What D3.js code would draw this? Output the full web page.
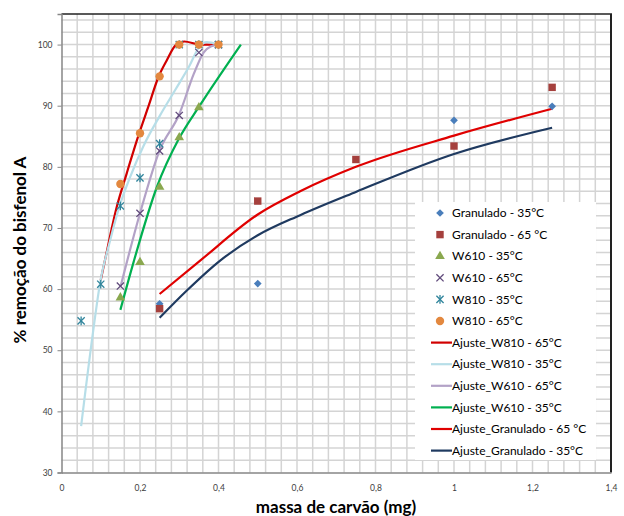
<!DOCTYPE html>
<html>
<head>
<meta charset="utf-8">
<script src="https://cdn.jsdelivr.net/npm/d3@7"></script>
<style>
  body { margin: 0; background: #fff; }
  svg { display: block; font-family: Lato, "Open Sans", sans-serif; }
</style>
</head>
<body>
<svg id="chart" width="624" height="516"></svg>
<script>
// measured points  [massa (mg), % removal]
var granulado35 = [[0.25, 57.6], [0.5, 60.9], [1.0, 87.6], [1.25, 89.9]];
var granulado65 = [[0.25, 56.8], [0.5, 74.4], [0.75, 81.2], [1.0, 83.4], [1.25, 93.0]];
var w610_35 = [[0.15, 58.6], [0.2, 64.4], [0.25, 76.7], [0.3, 84.8], [0.35, 89.7]];
var w610_65 = [[0.15, 60.5], [0.2, 72.4], [0.25, 82.6], [0.3, 88.4], [0.35, 98.7], [0.4, 100]];
var w810_35 = [[0.05, 54.8], [0.1, 60.8], [0.15, 73.6], [0.2, 78.2], [0.25, 83.8], [0.3, 100], [0.35, 100], [0.4, 100]];
var w810_65 = [[0.15, 77.2], [0.2, 85.5], [0.25, 94.8], [0.3, 100], [0.35, 100], [0.4, 100]];

// fitted curves
var fitW810_65 = [[0.1, 61.5], [0.111, 64.8], [0.141, 73.5], [0.166, 78.9], [0.198, 85.5], [0.221, 89.8], [0.247, 94.7], [0.268, 97.4], [0.291, 99.9], [0.313, 100.5], [0.353, 100], [0.4, 100]];
var fitW810_35 = [[0.05, 37.6], [0.081, 53.3], [0.098, 60.9], [0.124, 68], [0.147, 73.4], [0.174, 78.2], [0.208, 83.3], [0.25, 88.3], [0.29, 92.6], [0.325, 96.4], [0.35, 99.5], [0.37, 100.4], [0.4, 100]];
var fitW610_65 = [[0.15, 60.3], [0.2, 72.4], [0.25, 82.7], [0.3, 88.6], [0.337, 95.2], [0.362, 98.7], [0.38, 99.7], [0.4, 100]];
var fitW610_35 = [[0.15, 56.6], [0.184, 64.5], [0.243, 76.7], [0.3, 84.7], [0.352, 90], [0.457, 100]];
var fitGran65 = [[0.25, 59.2], [0.354, 64.7], [0.5, 72.2], [0.608, 76], [0.75, 80], [1.0, 85.1], [1.25, 89.5]];
var fitGran35 = [[0.25, 55.3], [0.32, 59.8], [0.405, 64.7], [0.5, 68.8], [0.608, 72.1], [0.75, 75.9], [1.0, 82.1], [1.25, 86.4]];

var xTicks = [0, 0.2, 0.4, 0.6, 0.8, 1, 1.2, 1.4];
var yTicks = [30, 40, 50, 60, 70, 80, 90, 100];

(function() {
var svg = d3.select("#chart");

var left = 61.5, right = 611, plotTop = 14, bottom = 472.5;

var x = d3.scaleLinear().domain([0, 1.4]).range([left, right]);
var y = d3.scaleLinear().domain([30, 105]).range([bottom, plotTop]);

var fmt = function(d) { return String(d).replace(".", ","); };

// grid (minor every 0.04 / 2)
var grid = svg.append("g").attr("stroke", "#d4d4d4").attr("stroke-width", 1.5);
grid.selectAll(".vx").data(d3.range(1, 35).map(function(i) { return i * 0.04; }))
  .enter().append("line")
  .attr("x1", d => x(d)).attr("x2", d => x(d))
  .attr("y1", plotTop).attr("y2", bottom);
grid.selectAll(".hy").data(d3.range(16, 53).map(function(i) { return i * 2; }))
  .enter().append("line")
  .attr("x1", left).attr("x2", right)
  .attr("y1", d => y(d)).attr("y2", d => y(d));

// top/right frame
svg.append("line").attr("x1", left).attr("x2", right + 1).attr("y1", plotTop).attr("y2", plotTop)
  .attr("stroke", "#222").attr("stroke-width", 1.5);
svg.append("line").attr("x1", right).attr("x2", right).attr("y1", plotTop).attr("y2", bottom)
  .attr("stroke", "#222").attr("stroke-width", 2);

// axes
var xAxis = svg.append("g").attr("transform", "translate(0," + bottom + ")")
  .call(d3.axisBottom(x).tickValues(xTicks).tickFormat(fmt).tickSize(0).tickPadding(12));
var yAxis = svg.append("g").attr("transform", "translate(" + left + ",0)")
  .call(d3.axisLeft(y).tickValues(yTicks).tickSize(4).tickPadding(5));
[xAxis, yAxis].forEach(function(a) {
  a.select(".domain").attr("stroke", "#868686").attr("stroke-width", 1.5);
  a.selectAll(".tick line").attr("stroke", "#868686");
  a.selectAll("text").attr("fill", "#404040").style("font-size", "8.5px").style("font-family", "Lato, sans-serif");
});

// axis titles
svg.append("text").attr("x", 336).attr("y", 513).attr("text-anchor", "middle")
  .style("font-size", "17px").style("font-weight", "bold").attr("fill", "#000")
  .text("massa de carvão (mg)");
svg.append("text").attr("transform", "translate(26,250) rotate(-90)").attr("text-anchor", "middle")
  .style("font-size", "17px").style("font-weight", "bold").attr("fill", "#000")
  .text("% remoção do bisfenol A");

// fit lines
var line = d3.line().x(d => x(d[0])).y(d => y(d[1])).curve(d3.curveMonotoneX);
var fits = [
  { name: "Ajuste_W810 - 65°C", data: fitW810_65, color: "#d10000" },
  { name: "Ajuste_W810 - 35°C", data: fitW810_35, color: "#b7dee8" },
  { name: "Ajuste_W610 - 65°C", data: fitW610_65, color: "#b3a2c7" },
  { name: "Ajuste_W610 - 35°C", data: fitW610_35, color: "#00b050" },
  { name: "Ajuste_Granulado - 65 °C", data: fitGran65, color: "#e00000" },
  { name: "Ajuste_Granulado - 35°C", data: fitGran35, color: "#1f3a60" }
];

svg.append("g").selectAll("path").data(fits).enter().append("path")
  .attr("d", d => line(d.data))
  .attr("fill", "none")
  .attr("stroke", d => d.color)
  .attr("stroke-width", 2.2);

// markers
function drawMarker(g, type, color) {
  if (type == "x" || type == "star") {
    var s = 3.6;
    g.append("path").attr("d", "M" + (-s) + "," + (-s) + "L" + s + "," + s + "M" + (-s) + "," + s + "L" + s + "," + (-s))
      .attr("stroke", color).attr("stroke-width", 1.3).attr("fill", "none");
    if (type == "star")
      g.append("path").attr("d", "M0,-4.3L0,4.3").attr("stroke", color).attr("stroke-width", 1.3);
    return;
  }
  if (type == "diamond") {
    g.append("path").attr("d", d3.symbol().type(d3.symbolSquare).size(30)())
      .attr("transform", "rotate(45)").attr("fill", color);
    return;
  }
  var sym = { square: d3.symbolSquare, triangle: d3.symbolTriangle, circle: d3.symbolCircle }[type];
  var size = { square: 55, triangle: 40, circle: 55 }[type];
  g.append("path").attr("d", d3.symbol().type(sym).size(size)()).attr("fill", color);
}

var series = [
  { name: "Granulado - 35°C", data: granulado35, type: "diamond", color: "#4a7ebb" },
  { name: "Granulado - 65 °C", data: granulado65, type: "square", color: "#a5403d" },
  { name: "W610 - 35°C", data: w610_35, type: "triangle", color: "#8aa84f" },
  { name: "W610 - 65°C", data: w610_65, type: "x", color: "#604a7b" },
  { name: "W810 - 35°C", data: w810_35, type: "star", color: "#31859c" },
  { name: "W810 - 65°C", data: w810_65, type: "circle", color: "#e3883f" }
];

series.forEach(function(s) {
  svg.append("g").selectAll("g").data(s.data).enter().append("g")
    .attr("transform", d => "translate(" + x(d[0]) + "," + y(d[1]) + ")")
    .each(function() { drawMarker(d3.select(this), s.type, s.color); });
});

// legend
var lg = svg.append("g").attr("transform", "translate(415,202)");
lg.append("rect").attr("width", 181).attr("height", 258).attr("fill", "#fff");
var items = series.map(function(s) { return { name: s.name, marker: s }; })
  .concat(fits.map(function(f) { return { name: f.name, line: f }; }));
items.forEach(function(it, i) {
  var gy = 11 + i * 21.6;
  var row = lg.append("g").attr("transform", "translate(0," + gy + ")");
  if (it.marker) {
    var m = row.append("g").attr("transform", "translate(25,0)");
    drawMarker(m, it.marker.type, it.marker.color);
  } else {
    row.append("line").attr("x1", 16).attr("x2", 37).attr("y1", 0).attr("y2", 0)
      .attr("stroke", it.line.color).attr("stroke-width", 2.2);
  }
  row.append("text").attr("x", 37).attr("y", 0).attr("dy", "0.35em")
    .style("font-size", "12px").attr("fill", "#000").text(it.name);
});
})();
</script>
</body>
</html>
